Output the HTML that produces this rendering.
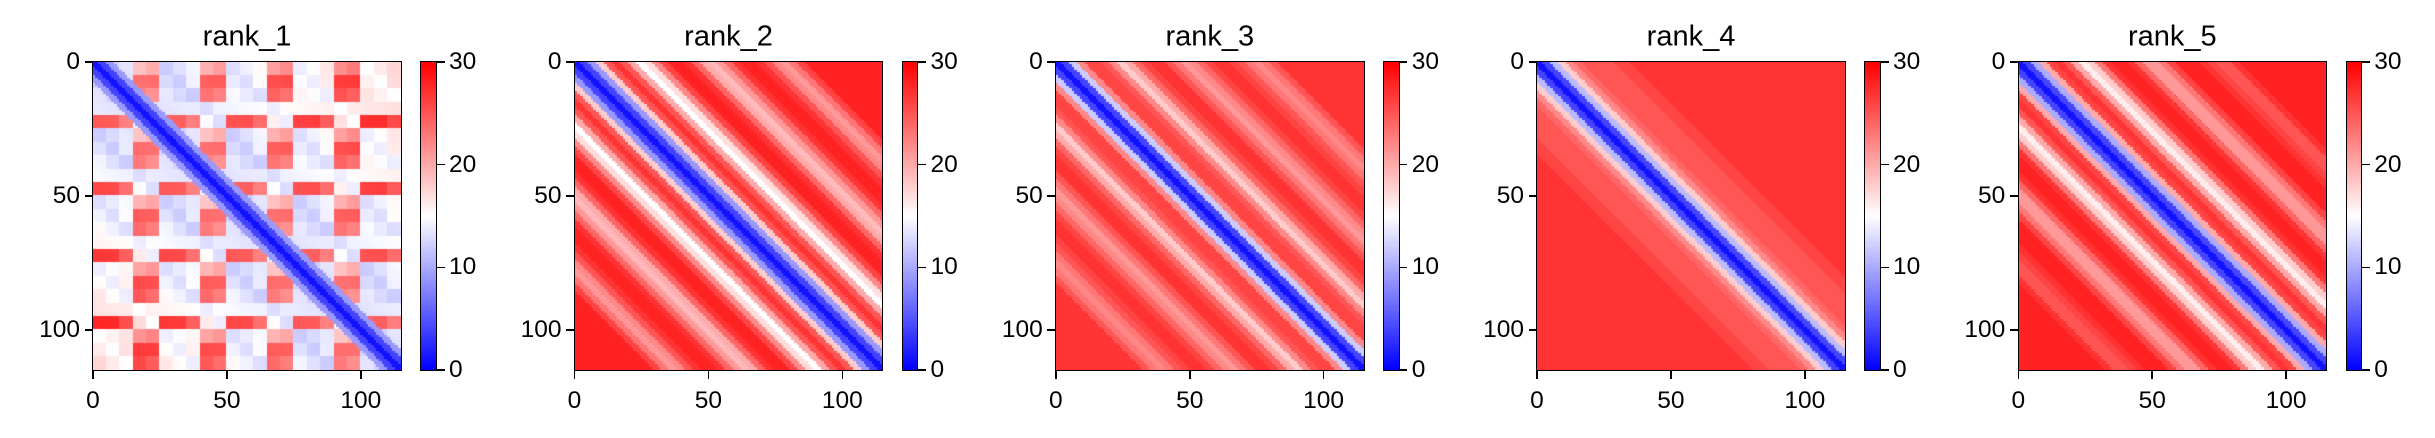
<!DOCTYPE html>
<html><head><meta charset="utf-8">
<style>
html,body{margin:0;padding:0;background:#fff;}
#fig{position:relative;width:2435px;height:438px;overflow:hidden;font-family:"Liberation Sans",sans-serif;color:#000;}
.t{position:absolute;white-space:nowrap;line-height:1;}
.title{font-size:29px;}
.tick{font-size:24.5px;}
.ax{position:absolute;border:1.6px solid #000;box-sizing:border-box;}
.tk{position:absolute;background:#000;}
canvas{position:absolute;}
</style></head>
<body>
<div id="fig"></div>
<script>
// ---- data ----
var N = 115;
var panelTitles = ["rank_1","rank_2","rank_3","rank_4","rank_5"];
var axisTicks = [0,50,100];
var cbarTicks = [0,10,20,30];
var vmin = 0, vmax = 30;
// rank_1: near-diagonal profile (offset step 3) and periodic 25-residue motif (5x5 blocks)
var rank1Diag = [1,4,9];
var rank1Motif = [
  [11,12,13,18,19],
  [12,11,13,23,23],
  [13,12,11,22,21],
  [13,13,13,12,13],
  [24,24,22,14,12]
];
var rank1FarGain = 0.04;
// ranks 2-5: distance vs |i-j| offset, sampled every 3 residues (offset 0,3,6,...)
var rank2Profile = [1,4,9,18,25,27,25,20,15,17,22,26,28,28,27,24,20,19,21,24,27,28,28,27,25,22,21,23,26,28,28,28,28,28,28,28,28,28,28];
var rank3Profile = [1,4,12,22,26,26,25,22,18,20,24,26,27,27,25,23,21,22,24,26,27,27,26,25,23,22,23,25,27,27,27,27,27,27,27,27,27,27,27];
var rank4Profile = [1,4,11,18,22,24,25,25,25,25,26,26,27,27,27,27,27,27,27,27,27,27,27,27,27,27,27,27,27,27,27,27,27,27,27,27,27,27,27];
var rank5Profile = [1,4,10,20,26,27,25,20,16,18,23,27,28,28,27,24,21,21,23,26,28,28,28,27,26,25,25,27,28,28,28,28,28,28,28,28,28,28,28];
var profiles = [null, rank2Profile, rank3Profile, rank4Profile, rank5Profile];

// ---- layout ----
var panelLeft = [93, 574.5, 1055.8, 1537, 2018.3];
var top0 = 62, size = 308, cbOff = 328, cbW = 15;
var fig = document.getElementById('fig');

function xScale(j){ return j*size/N; }
function yScale(i){ return i*size/N; }
function cbScale(v){ return size - (v-vmin)/(vmax-vmin)*size; }
function bwr(v){
  var t = Math.max(0,Math.min(1,(v-vmin)/(vmax-vmin)));
  var r,g,b;
  if(t<0.5){ r=2*t; g=2*t; b=1; } else { r=1; g=2*(1-t); b=2*(1-t); }
  return 'rgb('+Math.round(r*255)+','+Math.round(g*255)+','+Math.round(b*255)+')';
}
function value(p,i,j){
  var k = Math.abs(i-j);
  if(p===0){
    var m = rank1Motif[Math.floor((i%25)/5)][Math.floor((j%25)/5)] + rank1FarGain*k;
    var di = Math.round(k/3);
    if(di < rank1Diag.length) return Math.min(rank1Diag[di], m);
    return m;
  }
  var prof = profiles[p];
  return prof[Math.min(prof.length-1, Math.round(k/3))];
}
function addText(txt, x, y, cls, align, name){
  var d = document.createElement('div');
  d.className = 't '+cls;
  d.textContent = txt;
  
  
  d.style.left = x+'px'; d.style.top = y+'px';
  if(align==='center') d.style.transform='translate(-50%,-50%)';
  else if(align==='right') d.style.transform='translate(-100%,-50%)';
  else d.style.transform='translate(0,-50%)';
  fig.appendChild(d);
}
function addTick(x,y,w,h,name){
  var d=document.createElement('div');
  d.className='tk';
  
  
  d.style.left=x+'px';d.style.top=y+'px';d.style.width=w+'px';d.style.height=h+'px';
  fig.appendChild(d);
}

for(var p=0;p<5;p++){
  var L = panelLeft[p];
  var cv = document.createElement('canvas');
  cv.width=size; cv.height=size;
  cv.style.left=L+'px'; cv.style.top=top0+'px';
  
  
  fig.appendChild(cv);
  var ctx = cv.getContext('2d');
  for(var i=0;i<N;i++){
    for(var j=0;j<N;j++){
      ctx.fillStyle = bwr(value(p,i,j));
      var x0=Math.floor(xScale(j)), x1=Math.ceil(xScale(j+1));
      var y0=Math.floor(yScale(i)), y1=Math.ceil(yScale(i+1));
      ctx.fillRect(x0,y0,x1-x0,y1-y0);
    }
  }
  var fr=document.createElement('div');
  fr.className='ax';
  
  
  fr.style.left=(L-0.8)+'px';fr.style.top=(top0-0.8)+'px';fr.style.width=(size+1.6)+'px';fr.style.height=(size+1.6)+'px';
  fig.appendChild(fr);
  addText(panelTitles[p], L+size/2, 37, 'title', 'center', 'panel-title');
  for(var t=0;t<axisTicks.length;t++){
    var v=axisTicks[t];
    addTick(L+xScale(v)-0.8, top0+size, 1.6, 8.5, 'x-tick');
    addText(String(v), L+xScale(v), top0+size+31, 'tick', 'center', 'x-tick-label');
    addTick(L-8.5, top0+yScale(v)-0.8, 8.5, 1.6, 'y-tick');
    addText(String(v), L-13, top0+yScale(v), 'tick', 'right', 'y-tick-label');
  }
  // colorbar
  var cb=document.createElement('canvas');
  cb.width=cbW; cb.height=size;
  cb.style.left=(L+cbOff)+'px'; cb.style.top=top0+'px';
  
  
  fig.appendChild(cb);
  var c2=cb.getContext('2d');
  for(var y=0;y<size;y++){
    var vv = vmax - (y+0.5)/size*(vmax-vmin);
    c2.fillStyle=bwr(vv); c2.fillRect(0,y,cbW,1);
  }
  var cf=document.createElement('div');
  cf.className='ax';
  
  
  cf.style.left=(L+cbOff-0.8)+'px';cf.style.top=(top0-0.8)+'px';cf.style.width=(cbW+1.6)+'px';cf.style.height=(size+1.6)+'px';
  fig.appendChild(cf);
  for(var t2=0;t2<cbarTicks.length;t2++){
    var cv2=cbarTicks[t2];
    addTick(L+cbOff+cbW, top0+cbScale(cv2)-0.8, 8.5, 1.6, 'colorbar-tick');
    addText(String(cv2), L+cbOff+cbW+13, top0+cbScale(cv2), 'tick', 'left', 'colorbar-tick-label');
  }
}
</script>
</body></html>
